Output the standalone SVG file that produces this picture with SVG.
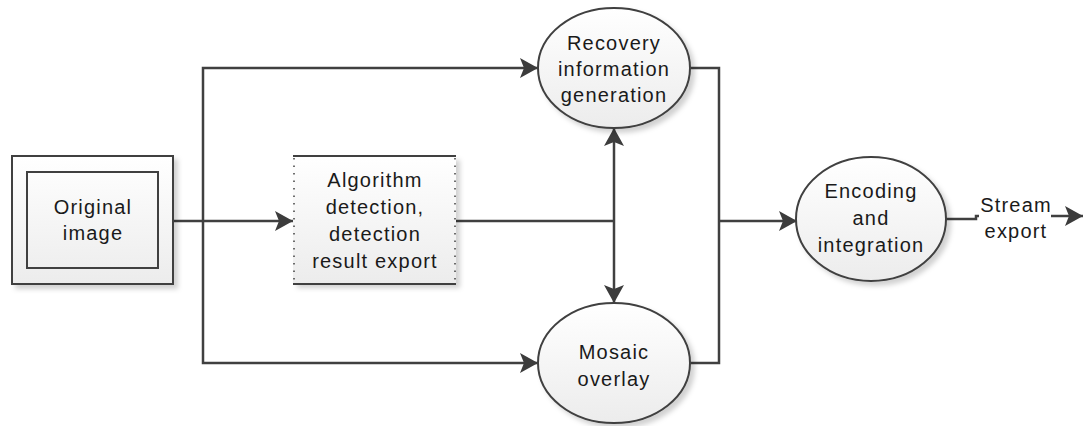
<svg xmlns="http://www.w3.org/2000/svg" width="1085" height="426" viewBox="0 0 1085 426">
<defs>
<linearGradient id="g" x1="0" y1="0" x2="0" y2="1">
<stop offset="0" stop-color="#ffffff"/>
<stop offset="1" stop-color="#ececec"/>
</linearGradient>
<filter id="sh" x="-10%" y="-10%" width="125%" height="125%">
<feDropShadow dx="4" dy="4" stdDeviation="2.5" flood-color="#000" flood-opacity="0.18"/>
</filter>
<marker id="arr" viewBox="0 0 18 20" refX="18" refY="10" markerWidth="18" markerHeight="20" markerUnits="userSpaceOnUse" orient="auto-start-reverse">
<path d="M0,0 L18,10 L0,20 L4,10 Z" fill="#3c3c3c"/>
</marker>
<style>
.t{font-family:"Liberation Sans",Arial,sans-serif;font-size:20px;fill:#1a1a1a;text-anchor:middle;letter-spacing:1.2px}
.ln{fill:none;stroke:#404040;stroke-width:2.5}
.nd{fill:url(#g);stroke:#404040;stroke-width:2;filter:url(#sh)}
</style>
</defs>
<rect width="1085" height="426" fill="#ffffff"/>

<g id="connectors">
<path class="ln" d="M173,221 H293" marker-end="url(#arr)"/>
<path class="ln" d="M538,68 H203 V363 H538" marker-start="url(#arr)" marker-end="url(#arr)"/>
<path class="ln" d="M456,221 H614"/>
<path class="ln" d="M614,128 V303" marker-start="url(#arr)" marker-end="url(#arr)"/>
<path class="ln" d="M690,68 H719 V363 H690"/>
<path class="ln" d="M719,221 H797" marker-end="url(#arr)"/>
<path class="ln" d="M946,219 H976 V216 H1083" marker-end="url(#arr)"/>
</g>

<g id="original-image">
<rect class="nd" x="12" y="156" width="161" height="128"/>
<rect x="27" y="172" width="131" height="96" fill="none" stroke="#404040" stroke-width="2"/>
<text class="t" x="93" y="214">Original</text>
<text class="t" x="93" y="240">image</text>
</g>

<g id="algorithm-detection">
<rect x="293" y="156" width="163" height="128" fill="url(#g)" filter="url(#sh)"/>
<line x1="293" y1="156" x2="456" y2="156" stroke="#404040" stroke-width="2"/>
<line x1="293" y1="284" x2="456" y2="284" stroke="#404040" stroke-width="2"/>
<line x1="294" y1="158" x2="294" y2="283" stroke="#404040" stroke-width="1.5" stroke-dasharray="1.5,6"/>
<line x1="455" y1="158" x2="455" y2="283" stroke="#404040" stroke-width="1.5" stroke-dasharray="1.5,6"/>
<text class="t" x="375" y="187">Algorithm</text>
<text class="t" x="375" y="214">detection,</text>
<text class="t" x="375" y="241">detection</text>
<text class="t" x="375" y="268">result export</text>
</g>

<g id="recovery-information-generation">
<ellipse class="nd" cx="614" cy="68" rx="76" ry="60"/>
<text class="t" x="614" y="50">Recovery</text>
<text class="t" x="614" y="76">information</text>
<text class="t" x="614" y="102">generation</text>
</g>

<g id="mosaic-overlay">
<ellipse class="nd" cx="614" cy="363" rx="76" ry="60"/>
<text class="t" x="614" y="359">Mosaic</text>
<text class="t" x="614" y="386">overlay</text>
</g>

<g id="encoding-integration">
<ellipse class="nd" cx="871" cy="219" rx="75" ry="62"/>
<text class="t" x="871" y="198">Encoding</text>
<text class="t" x="871" y="225">and</text>
<text class="t" x="871" y="252">integration</text>
</g>

<g id="stream-export-label">
<rect x="979" y="192" width="72" height="54" fill="#ffffff"/>
<text class="t" x="1016" y="212">Stream</text>
<text class="t" x="1016" y="238">export</text>
</g>
</svg>
